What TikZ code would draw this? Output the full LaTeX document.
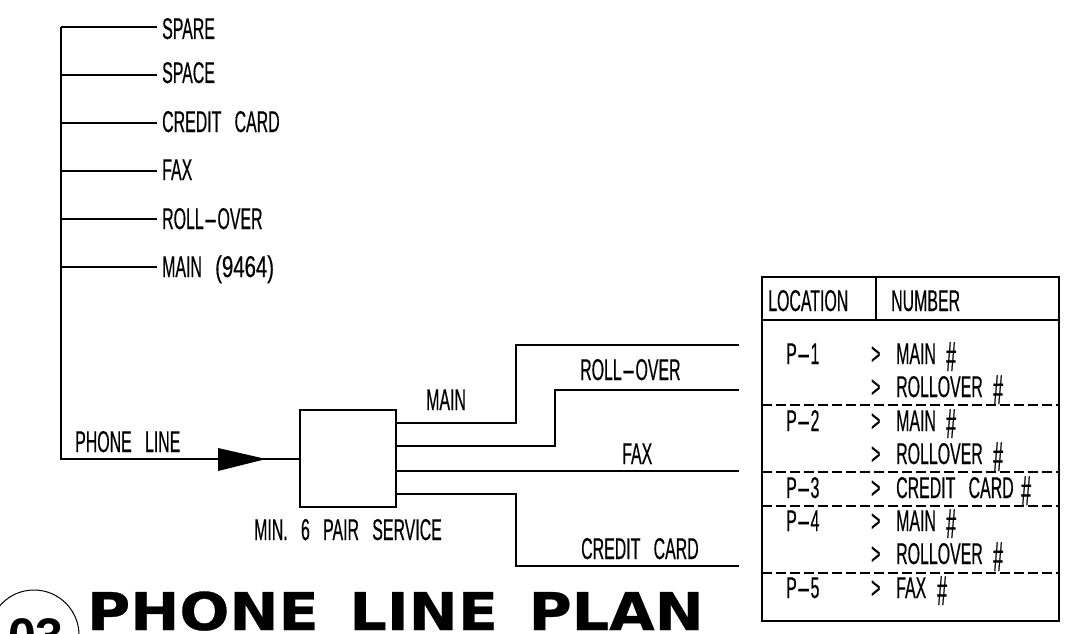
\documentclass[tikz,border=0pt]{standalone}
\usepackage{fontspec}
\setmainfont{Liberation Sans}
\newfontfamily\cad[FakeStretch=0.53,WordSpace=3,FakeBold=0.4]{Liberation Sans}
\newfontfamily\hashf[FakeStretch=0.42,FakeBold=0.4]{Liberation Sans}
\newfontfamily\ttl[FakeStretch=1.13,WordSpace=1.5,FakeBold=0.6]{DejaVu Sans Bold}
\newcommand{\hy}{\scalebox{2.6}[1]{-}}
\newcommand{\hs}{{\hashf\fontsize{42}{42}\selectfont\#}}
\tikzset{
  x=1pt,y=-1pt,
  lbl/.style={anchor=base west,inner sep=0pt,font=\cad\fontsize{30}{30}\selectfont},
  wire/.style={draw=black,line width=1.7pt,line join=miter},
  tbl/.style={draw=black,line width=1.6pt},
  dsh/.style={draw=black,line width=1.3pt,dash pattern=on 10pt off 4pt},
  service/.style={draw=black,line width=1.7pt,minimum width=96pt,minimum height=97pt,inner sep=0pt},
  ttlstyle/.style={anchor=base west,inner sep=0pt,font=\ttl\fontsize{52}{52}\selectfont},
  tip/.style={fill=black,draw=none}
}
\begin{document}
\begin{tikzpicture}
\useasboundingbox (0,0) rectangle (1090,634);
\clip (0,0) rectangle (1090,634);
\fill[white] (0,0) rectangle (1090,634);
% bus
\coordinate (top) at (61,27);
\node[service] (box) at (348,458.5) {};
\coordinate (bot) at (61,459);
\foreach \n/\yy/\xx/\bb/\t in {a/27/157/39/SPARE,b/75/157/83/SPACE,c/123/157/132/CREDIT CARD,d/171/157/180/FAX}{
  \coordinate (j\n) at (61,\yy);
  \node[lbl] (l\n) at (162,\bb) {\t};
  \draw[wire] (j\n) -- (157,\yy);
}
\coordinate (je) at (61,219);
\node[lbl] (le) at (162,229) {ROLL\hy OVER};
\draw[wire] (je) -- (157,219);
\coordinate (jf) at (61,267);
\node[lbl] (lf) at (162,277) {MAIN \scalebox{1.28}[1]{(9464)}};
\draw[wire] (jf) -- (157,267);
\draw[wire] (top) -- (bot) -- (box.west |- bot);
% arrow
\coordinate (at) at (218,448);
\coordinate (ab) at (218,471);
\coordinate (ah) at (266,459);
\fill[tip] (at) -- (ah) -- (ab) -- cycle;
\node[lbl] (phone) at (75,452) {PHONE LINE};
\node[lbl] (svc) at (254,540) {MIN. 6 PAIR SERVICE};
% outgoing
\coordinate (o1) at (739,345);
\coordinate (o2) at (739,390);
\coordinate (o3) at (739,471);
\coordinate (o4) at (739,566);
\draw[wire] (box.east |- 0,423) -- (516,423) -- (516,345) -- (o1);
\draw[wire] (box.east |- 0,446) -- (555,446) -- (555,390) -- (o2);
\draw[wire] (box.east |- 0,471) -- (o3);
\draw[wire] (box.east |- 0,494) -- (516,494) -- (516,566) -- (o4);
\node[lbl] (lmain) at (426,410) {MAIN};
\node[lbl] (lroll) at (580,380) {ROLL\hy OVER};
\node[lbl] (lfax) at (622,464) {FAX};
\node[lbl] (lcc) at (581,559) {CREDIT CARD};
% table
\draw[tbl] (762,277) rectangle (1059,621);
\draw[tbl] (762,320) -- (1059,320);
\draw[tbl] (876,277) -- (876,320);
\draw[dsh] (762,405) -- (1059,405);
\draw[dsh] (762,472) -- (1059,472);
\draw[dsh] (762,506) -- (1059,506);
\draw[dsh] (762,573) -- (1059,573);
\node[lbl] (tloc) at (768,311) {LOCATION};
\node[lbl] (tnum) at (891,311) {NUMBER};
\foreach \n/\bb in {1/364,2/431,3/498,4/531,5/598}{
  \node[lbl] (p\n) at (786,\bb) {P\hy\n};
  \node[lbl] (g\n) at (871,\bb) {>};
}
\foreach \n/\bb in {a/397,b/464,c/564}{
  \node[lbl] (g\n) at (871,\bb) {>};
  \node[lbl] (r\n) at (896,\bb) {ROLLOVER};
  \node[lbl] (hr\n) at (993,\bb+7) {\hs};
}
\foreach \n/\bb in {a/364,b/431,c/531}{
  \node[lbl] (m\n) at (896,\bb) {MAIN};
  \node[lbl] (hm\n) at (946,\bb+7) {\hs};
}
\node[lbl] (cc) at (896,498) {CREDIT CARD};
\node[lbl] (hcc) at (1021,505) {\hs};
\node[lbl] (fx) at (896,598) {FAX};
\node[lbl] (hfx) at (937,605) {\hs};
% title
\node[ttlstyle] (title) at (87,630) {PHONE LINE PLAN};
\draw[black,line width=1pt] (34,635) circle[radius=45];
\node[anchor=base,inner sep=0pt,font=\fontspec{Liberation Sans Bold}\fontsize{50}{50}\selectfont] (num) at (36,653) {03};
\end{tikzpicture}
\end{document}
